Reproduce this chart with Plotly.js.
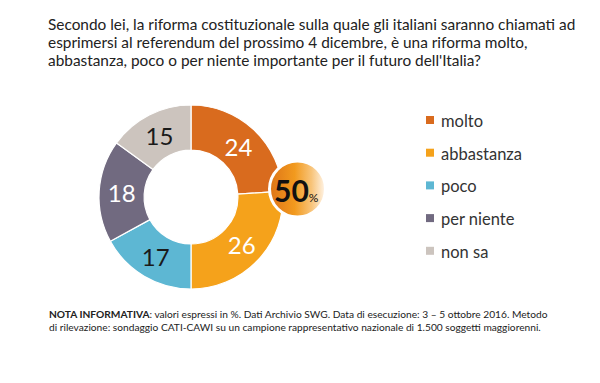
<!DOCTYPE html>
<html>
<head>
<meta charset="utf-8">
<script src="https://cdn.plot.ly/plotly-3.0.1.min.js"></script>
<style>html,body{margin:0;padding:0;background:#fff;}#chart{width:600px;height:383px;}</style>
</head>
<body>
<div id="chart"></div>
<script>
const categories = ["molto", "abbastanza", "poco", "per niente", "non sa"];
const values = [24, 26, 17, 18, 15];
const colors = ["#D96B1E", "#F5A21B", "#5DB7D3", "#716A80", "#CCC4BE"];
const textColors = ["#ffffff", "#ffffff", "#1a1a1a", "#ffffff", "#1a1a1a"];
const highlightValue = "50";
const titleLines = [
  "Secondo lei, la riforma costituzionale sulla quale gli italiani saranno chiamati ad",
  "esprimersi al referendum del prossimo 4 dicembre, è una riforma molto,",
  "abbastanza, poco o per niente importante per il futuro dell'Italia?"
];
const noteText = "<b>NOTA INFORMATIVA</b>: valori espressi in %. Dati Archivio SWG. Data di esecuzione: 3 – 5 ottobre 2016. Metodo<br>di rilevazione: sondaggio CATI-CAWI su un campione rappresentativo nazionale di 1.500 soggetti maggiorenni.";

const W = 600, H = 383;
const px = x => x / W;
const py = y => 1 - y / H;

const font = "Lato, 'Open Sans', sans-serif";

// donut geometry (pixels)
const cx = 191, cy = 197, R = 92;

const trace = {
  type: "pie",
  labels: categories,
  values: values,
  sort: false,
  direction: "clockwise",
  rotation: 0,
  hole: 0.51,
  marker: { colors: colors, line: { color: "#ffffff", width: 1.2 } },
  textinfo: "value",
  textposition: "inside",
  insidetextorientation: "horizontal",
  textfont: { family: font, size: 24, color: textColors },
  domain: { x: [px(cx - R), px(cx + R)], y: [py(cy + R), py(cy - R)] },
  showlegend: false,
  hoverinfo: "label+value"
};

const shapes = [];
const annotations = [];

// title lines
titleLines.forEach((t, i) => {
  annotations.push({
    xref: "paper", yref: "paper", x: px(46), y: py(24 + i * 18),
    xanchor: "left", yanchor: "middle", showarrow: false,
    text: t, font: { family: font, size: 15.4, color: "#222222" }
  });
});

// legend drawn as shapes + annotations
const legendX = 426, legendTextX = 439, legendY0 = 120, legendStep = 32.7, sq = 8;
categories.forEach((c, i) => {
  const y = legendY0 + i * legendStep;
  shapes.push({
    type: "rect", xref: "paper", yref: "paper",
    x0: px(legendX), x1: px(legendX + sq), y0: py(y + sq / 2), y1: py(y - sq / 2),
    fillcolor: colors[i], line: { width: 0 }
  });
  annotations.push({
    xref: "paper", yref: "paper", x: px(legendTextX), y: py(y + 1),
    xanchor: "left", yanchor: "middle", showarrow: false,
    text: c, font: { family: font, size: 16.5, color: "#333333" }
  });
});

// bubble with gradient
const bx = 297.5, by = 189, br = 30;
const svg = '<svg xmlns="http://www.w3.org/2000/svg" width="120" height="120" viewBox="0 0 120 120">' +
  '<defs><linearGradient id="g" x1="0" y1="0" x2="1" y2="0">' +
  '<stop offset="0" stop-color="#DD7418"/><stop offset="0.45" stop-color="#F29A1E"/>' +
  '<stop offset="0.75" stop-color="#F8C47A"/><stop offset="1" stop-color="#FFF6EC"/></linearGradient></defs>' +
  '<circle cx="60" cy="60" r="56" fill="url(#g)" stroke="#ffffff" stroke-width="6"/></svg>';
const images = [{
  source: "data:image/svg+xml;charset=utf-8," + encodeURIComponent(svg),
  xref: "paper", yref: "paper",
  x: px(bx - br), y: py(by - br), sizex: (2 * br) / W, sizey: (2 * br) / H,
  xanchor: "left", yanchor: "top", sizing: "stretch", layer: "above"
}];

annotations.push({
  xref: "paper", yref: "paper", x: px(bx - 1), y: py(by + 1),
  xanchor: "center", yanchor: "middle", showarrow: false,
  text: "<b>" + highlightValue + "</b><span style='font-size:12px'>%</span>",
  font: { family: font, size: 30, color: "#111111" }
});

annotations.push({
  xref: "paper", yref: "paper", x: px(47), y: py(306),
  xanchor: "left", yanchor: "top", showarrow: false, align: "left",
  text: noteText, font: { family: font, size: 10.2, color: "#222222" }
});

const layout = {
  width: W, height: H,
  margin: { l: 0, r: 0, t: 0, b: 0 },
  paper_bgcolor: "#ffffff",
  shapes: shapes,
  annotations: annotations,
  images: images
};

Plotly.newPlot("chart", [trace], layout, { displayModeBar: false, staticPlot: true });
</script>
</body>
</html>
